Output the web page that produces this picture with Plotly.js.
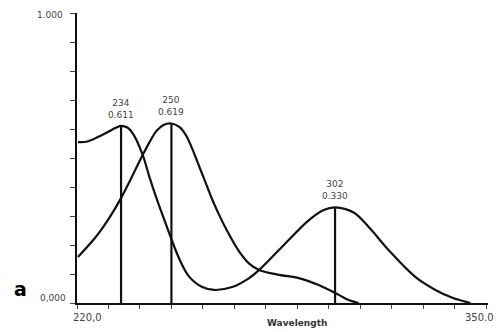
<!DOCTYPE html>
<html>
<head>
<meta charset="utf-8">
<script src="https://cdn.plot.ly/plotly-3.0.1.min.js"></script>
<style>html,body{margin:0;padding:0;background:#fff;}#chart{width:497px;height:332px;}</style>
</head>
<body>
<div id="chart"></div>
<script>
// Spectrum 1 (peak 234 nm, second peak ~302 nm)
const wlA = [220.3, 223.0, 226.6, 229.8, 232.5, 234.0, 236.0, 238.0, 240.9, 243.0, 245.3, 247.3, 249.5, 252.6, 255.7, 259.8, 263.6, 269.3, 274.7, 277.9, 285.1, 293.7, 298.4, 302.0, 307.9, 312.7, 319.0, 327.5, 333.9, 339.5, 345.0];
const absA = [0.555, 0.556, 0.572, 0.590, 0.605, 0.611, 0.605, 0.580, 0.510, 0.435, 0.360, 0.300, 0.235, 0.150, 0.090, 0.055, 0.045, 0.055, 0.086, 0.114, 0.193, 0.286, 0.321, 0.330, 0.312, 0.262, 0.183, 0.090, 0.045, 0.017, 0.000];
// Spectrum 2 (peak 250 nm)
const wlB = [220.3, 225.7, 229.8, 233.6, 236.8, 240.9, 244.0, 245.3, 247.5, 250.0, 252.5, 254.8, 258.9, 261.4, 263.0, 265.2, 267.4, 271.5, 274.7, 277.9, 284.2, 290.5, 296.8, 303.2, 306.3, 309.5];
const absB = [0.159, 0.224, 0.286, 0.354, 0.421, 0.511, 0.573, 0.594, 0.614, 0.619, 0.607, 0.575, 0.469, 0.400, 0.356, 0.303, 0.255, 0.178, 0.136, 0.114, 0.097, 0.086, 0.062, 0.028, 0.010, 0.000];
// Marked peaks
const peakWl = [234, 250, 302];
const peakAbs = [0.611, 0.619, 0.330];
const peakWlText = ["234", "250", "302"];
const peakAbsText = ["0.611", "0.619", "0.330"];
// Axis
const xTicks = [220, 230, 240, 250, 260, 270, 280, 290, 300, 310, 320, 330, 340, 350];
const yTicks = [0, 0.1, 0.2, 0.3, 0.4, 0.5, 0.6, 0.7, 0.8, 0.9, 1.0];
const xEndLabels = ["220,0", "350.0"];
const yEndLabels = ["0,000", "1.000"];
const xTitle = "Wavelength";
const panelLabel = "a";

const lineStyle = {color: "#111", width: 2.2, shape: "spline", smoothing: 1};
const traces = [
  {x: wlA, y: absA, mode: "lines", line: lineStyle, hoverinfo: "skip"},
  {x: wlB, y: absB, mode: "lines", line: lineStyle, hoverinfo: "skip"}
];
peakWl.forEach((w, i) => {
  traces.push({x: [w, w], y: [0, peakAbs[i]], mode: "lines", line: {color: "#111", width: 2.2}, hoverinfo: "skip"});
});

const font = {family: "DejaVu Sans, Liberation Sans, sans-serif", size: 9, color: "#444"};
const annotations = [];
peakWl.forEach((w, i) => {
  annotations.push({x: w, y: peakAbs[i], xref: "x", yref: "y", text: peakWlText[i] + "<br>" + peakAbsText[i],
    showarrow: false, yanchor: "bottom", xanchor: "center", yshift: 4, font: font, align: "center"});
});
annotations.push({x: xTicks[0], y: 0, xref: "x", yref: "paper", text: xEndLabels[0], showarrow: false,
  xanchor: "left", yanchor: "top", xshift: -6, yshift: -7, font: {...font, size: 10}});
annotations.push({x: xTicks[xTicks.length - 1], y: 0, xref: "x", yref: "paper", text: xEndLabels[1], showarrow: false,
  xanchor: "right", yanchor: "top", xshift: 10, yshift: -7, font: {...font, size: 10}});
annotations.push({x: 0, y: yTicks[0], xref: "paper", yref: "y", text: yEndLabels[0], showarrow: false,
  xanchor: "right", yanchor: "middle", xshift: -9, yshift: 5, font: font});
annotations.push({x: 0, y: yTicks[yTicks.length - 1], xref: "paper", yref: "y", text: yEndLabels[1], showarrow: false,
  xanchor: "right", yanchor: "middle", xshift: -12, yshift: -2, font: font});
annotations.push({x: 290, y: 0, xref: "x", yref: "paper", text: "<b>" + xTitle + "</b>", showarrow: false,
  xanchor: "center", yanchor: "top", yshift: -13, font: {...font, size: 9, color: "#333"}});
annotations.push({x: 0, y: 0, xref: "paper", yref: "paper", text: "<b>" + panelLabel + "</b>", showarrow: false,
  xanchor: "right", yanchor: "bottom", xshift: -48, yshift: 1, font: {family: "DejaVu Sans, sans-serif", size: 19, color: "#000"}});

const layout = {
  width: 497, height: 332,
  margin: {l: 77, r: 9, t: 13, b: 29},
  paper_bgcolor: "#fff", plot_bgcolor: "#fff",
  showlegend: false,
  xaxis: {range: [220, 350.6], showline: true, linecolor: "#111", linewidth: 2, tickvals: xTicks,
    ticks: "outside", ticklen: 4, tickwidth: 1, tickcolor: "#444", showticklabels: false, showgrid: false, zeroline: false},
  yaxis: {range: [0, 1.0], showline: true, linecolor: "#111", linewidth: 2, tickvals: yTicks,
    ticks: "outside", ticklen: 5, tickwidth: 1, tickcolor: "#444", showticklabels: false, showgrid: false, zeroline: false},
  annotations: annotations
};
Plotly.newPlot("chart", traces, layout, {staticPlot: true, displayModeBar: false});
</script>
</body>
</html>
